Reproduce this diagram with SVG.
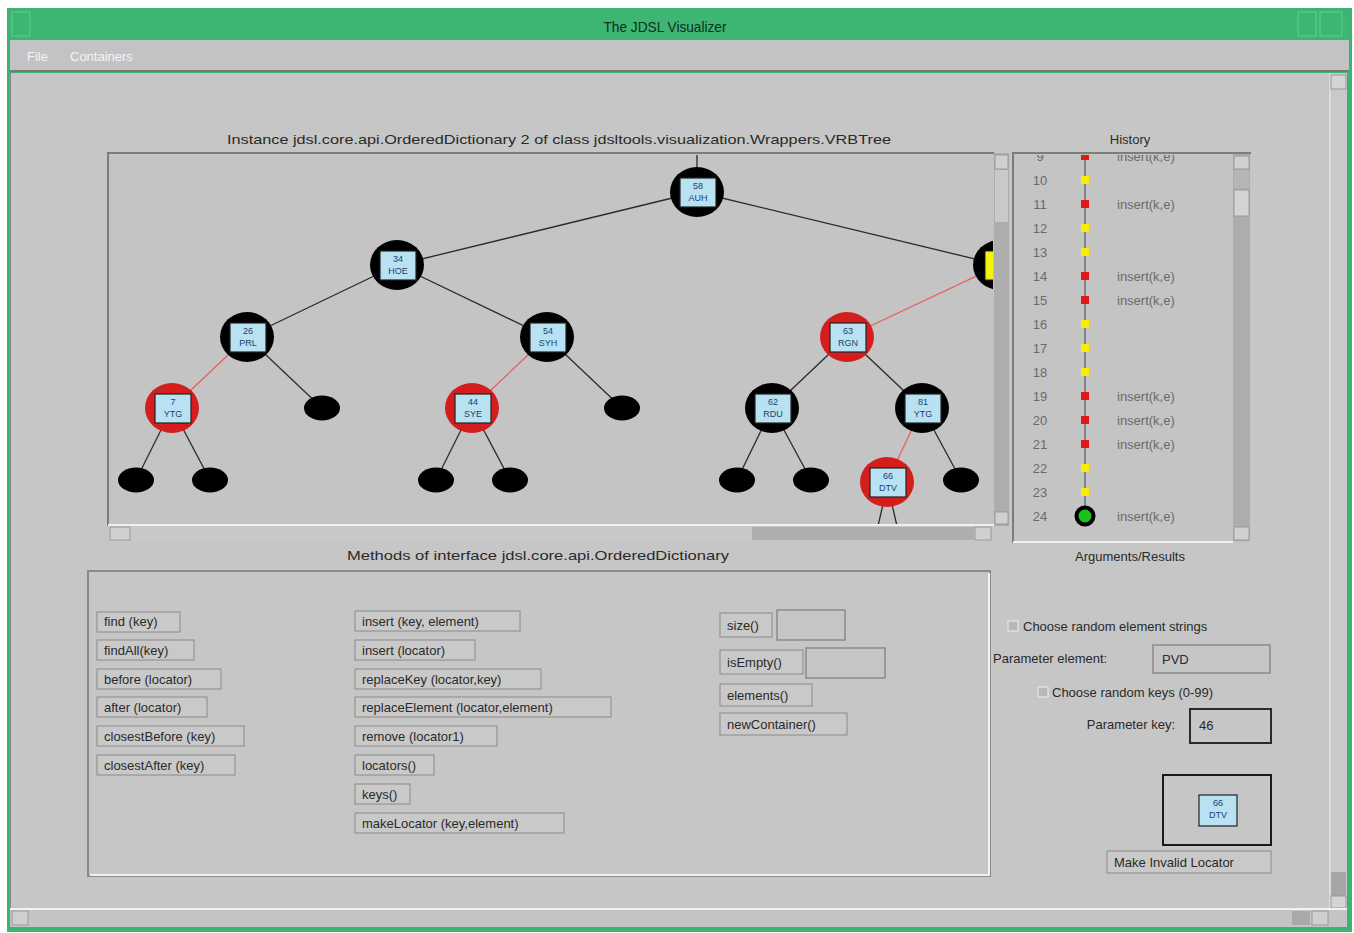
<svg xmlns="http://www.w3.org/2000/svg" width="1354" height="933" viewBox="0 0 1354 933">
<defs>
<style>
text{font-family:"Liberation Sans",Arial,sans-serif;}
.ui{font-size:13px;fill:#2a2a2a;}
.btn{fill:#c9c9c9;stroke:#8a8a8a;stroke-width:1;}
.nl{font-size:9px;fill:#1c3f70;text-anchor:middle;}
.edge{stroke:#2a2a2a;stroke-width:1.3;fill:none;}
.red{stroke:#e86060;stroke-width:1.3;fill:none;}
.bn{fill:#000;}
.rn{fill:#d41e1e;}
.lab{fill:#b8e2f2;stroke:#222;stroke-width:1.2;}
.leaf{fill:#000;}
.hist{font-size:13px;fill:#6a6a6a;}
.field{fill:#c6c6c6;stroke:#8a8a8a;stroke-width:1.5;}
.tbtn{fill:#3db573;stroke:#5fcf8f;stroke-width:1;}
</style>
<clipPath id="treeclip"><rect x="110" y="155" width="883" height="369"/></clipPath>
<clipPath id="histclip"><rect x="1015" y="155" width="218" height="386"/></clipPath>
</defs>

<!-- window frame -->
<rect x="0" y="0" width="1354" height="933" fill="#ffffff"/>
<rect x="7" y="8" width="1345" height="924" fill="#3cb371"/>
<g id="titlebar">
<rect x="10" y="10" width="1339" height="29" fill="#3db573"/>
<rect class="tbtn" x="12" y="12" width="18" height="24"/>
<rect class="tbtn" x="1298" y="12" width="18" height="24"/>
<rect class="tbtn" x="1320" y="12" width="22" height="24"/>
<text x="665" y="32" font-size="15" fill="#10301c" text-anchor="middle" textLength="123" lengthAdjust="spacingAndGlyphs">The JDSL Visualizer</text>
</g>
<g id="menubar">
<rect x="10" y="40" width="1339" height="32" fill="#c3c3c5"/>
<line x1="10" y1="71" x2="1349" y2="71" stroke="#7a7a7a" stroke-width="2"/>
<text x="27" y="61" font-size="13" fill="#f4f4f4">File</text>
<text x="70" y="61" font-size="13" fill="#f4f4f4">Containers</text>
</g>
<rect x="10" y="73" width="1320" height="836" fill="#c6c6c6"/>
<line x1="10" y1="73" x2="10" y2="909" stroke="#8a8a8a" stroke-width="2"/>

<!-- outer scrollbars -->
<g id="outer-vscroll">
<rect x="1330" y="73" width="17" height="836" fill="#c9c9c9"/>
<line x1="1330" y1="73" x2="1330" y2="909" stroke="#f0f0f0" stroke-width="1"/>
<rect x="1331" y="75" width="15" height="14" fill="#d4d4d4" stroke="#9a9a9a"/>
<rect x="1331" y="872" width="15" height="24" fill="#a6a6a6"/>
<rect x="1331" y="896" width="15" height="12" fill="#d4d4d4" stroke="#9a9a9a"/>
</g>
<g id="outer-hscroll">
<rect x="10" y="909" width="1337" height="18" fill="#c4c4c4"/>
<line x1="10" y1="909" x2="1347" y2="909" stroke="#f2f2f2" stroke-width="2"/>
<rect x="12" y="911" width="16" height="14" fill="#cfcfcf" stroke="#9a9a9a"/>
<rect x="1292" y="911" width="18" height="14" fill="#a9a9a9"/>
<rect x="1312" y="911" width="16" height="14" fill="#cfcfcf" stroke="#9a9a9a"/>
</g>

<!-- tree panel -->
<text x="559" y="144" font-size="13" fill="#2a2a2a" text-anchor="middle" textLength="664" lengthAdjust="spacingAndGlyphs">Instance jdsl.core.api.OrderedDictionary 2 of class jdsltools.visualization.Wrappers.VRBTree</text>
<rect x="108" y="153" width="886" height="373" fill="#c4c4c4"/>
<polyline points="108,526 108,153 994,153" fill="none" stroke="#7c7c7c" stroke-width="2"/>
<line x1="108" y1="525" x2="994" y2="525" stroke="#f0f0f0" stroke-width="2"/>

<g id="connectors" clip-path="url(#treeclip)">
<line class="edge" x1="697" y1="150" x2="697" y2="192"/>
<line class="edge" x1="697" y1="192" x2="397" y2="265"/>
<line class="edge" x1="697" y1="192" x2="1000" y2="265"/>
<line class="edge" x1="397" y1="265" x2="247" y2="337"/>
<line class="edge" x1="397" y1="265" x2="547" y2="337"/>
<line class="red" x1="1000" y1="265" x2="847" y2="337"/>
<line class="red" x1="247" y1="337" x2="172" y2="408"/>
<line class="edge" x1="247" y1="337" x2="322" y2="408"/>
<line class="red" x1="547" y1="337" x2="472" y2="408"/>
<line class="edge" x1="547" y1="337" x2="622" y2="408"/>
<line class="edge" x1="847" y1="337" x2="772" y2="408"/>
<line class="edge" x1="847" y1="337" x2="922" y2="408"/>
<line class="edge" x1="172" y1="408" x2="136" y2="480"/>
<line class="edge" x1="172" y1="408" x2="210" y2="480"/>
<line class="edge" x1="472" y1="408" x2="436" y2="480"/>
<line class="edge" x1="472" y1="408" x2="510" y2="480"/>
<line class="edge" x1="772" y1="408" x2="737" y2="480"/>
<line class="edge" x1="772" y1="408" x2="811" y2="480"/>
<line class="red" x1="922" y1="408" x2="887" y2="482"/>
<line class="edge" x1="922" y1="408" x2="961" y2="480"/>
<line class="edge" x1="884" y1="500" x2="878" y2="526"/>
<line class="edge" x1="891" y1="500" x2="897" y2="526"/>
</g>

<g clip-path="url(#treeclip)">
<g id="n-auh"><ellipse class="bn" cx="697" cy="192" rx="27" ry="25"/><rect class="lab" x="680" y="178" width="36" height="29"/><text class="nl" x="698" y="189">58</text><text class="nl" x="698" y="201">AUH</text></g>
<g id="n-hoe"><ellipse class="bn" cx="397" cy="265" rx="27" ry="25"/><rect class="lab" x="380" y="251" width="36" height="29"/><text class="nl" x="398" y="262">34</text><text class="nl" x="398" y="274">HOE</text></g>
<g id="n-right"><ellipse cx="1000" cy="265" rx="27" ry="25" fill="#000"/><rect x="985" y="251" width="36" height="29" fill="#f2f20a" stroke="#222"/></g>
<g id="n-prl"><ellipse class="bn" cx="247" cy="337" rx="27" ry="25"/><rect class="lab" x="230" y="323" width="36" height="29"/><text class="nl" x="248" y="334">26</text><text class="nl" x="248" y="346">PRL</text></g>
<g id="n-syh"><ellipse class="bn" cx="547" cy="337" rx="27" ry="25"/><rect class="lab" x="530" y="323" width="36" height="29"/><text class="nl" x="548" y="334">54</text><text class="nl" x="548" y="346">SYH</text></g>
<g id="n-rgn"><ellipse class="rn" cx="847" cy="337" rx="27" ry="25"/><rect class="lab" x="830" y="323" width="36" height="29"/><text class="nl" x="848" y="334">63</text><text class="nl" x="848" y="346">RGN</text></g>
<g id="n-ytg7"><ellipse class="rn" cx="172" cy="408" rx="27" ry="25"/><rect class="lab" x="155" y="394" width="36" height="29"/><text class="nl" x="173" y="405">7</text><text class="nl" x="173" y="417">YTG</text></g>
<g id="leaf1"><ellipse class="leaf" cx="322" cy="408" rx="18" ry="12.5"/></g>
<g id="n-sye"><ellipse class="rn" cx="472" cy="408" rx="27" ry="25"/><rect class="lab" x="455" y="394" width="36" height="29"/><text class="nl" x="473" y="405">44</text><text class="nl" x="473" y="417">SYE</text></g>
<g id="leaf2"><ellipse class="leaf" cx="622" cy="408" rx="18" ry="12.5"/></g>
<g id="n-rdu"><ellipse class="bn" cx="772" cy="408" rx="27" ry="25"/><rect class="lab" x="755" y="394" width="36" height="29"/><text class="nl" x="773" y="405">62</text><text class="nl" x="773" y="417">RDU</text></g>
<g id="n-ytg81"><ellipse class="bn" cx="922" cy="408" rx="27" ry="25"/><rect class="lab" x="905" y="394" width="36" height="29"/><text class="nl" x="923" y="405">81</text><text class="nl" x="923" y="417">YTG</text></g>
<g id="leaf3"><ellipse class="leaf" cx="136" cy="480" rx="18" ry="12.5"/></g>
<g id="leaf4"><ellipse class="leaf" cx="210" cy="480" rx="18" ry="12.5"/></g>
<g id="leaf5"><ellipse class="leaf" cx="436" cy="480" rx="18" ry="12.5"/></g>
<g id="leaf6"><ellipse class="leaf" cx="510" cy="480" rx="18" ry="12.5"/></g>
<g id="leaf7"><ellipse class="leaf" cx="737" cy="480" rx="18" ry="12.5"/></g>
<g id="leaf8"><ellipse class="leaf" cx="811" cy="480" rx="18" ry="12.5"/></g>
<g id="n-dtv"><ellipse class="rn" cx="887" cy="482" rx="27" ry="25"/><rect class="lab" x="870" y="468" width="36" height="29"/><text class="nl" x="888" y="479">66</text><text class="nl" x="888" y="491">DTV</text></g>
<g id="leaf9"><ellipse class="leaf" cx="961" cy="480" rx="18" ry="12.5"/></g>
</g>

<g id="tree-vscroll">
<rect x="994" y="153" width="15" height="373" fill="#adadad"/>
<rect x="995" y="155" width="13" height="14" fill="#d0d0d0" stroke="#9a9a9a"/>
<rect x="995" y="170" width="13" height="52" fill="#cacaca"/>
<rect x="995" y="512" width="13" height="12" fill="#d0d0d0" stroke="#9a9a9a"/>
</g>
<g id="tree-hscroll">
<rect x="108" y="526" width="886" height="15" fill="#c8c8c8"/>
<rect x="110" y="527" width="20" height="13" fill="#d0d0d0" stroke="#9a9a9a"/>
<rect x="752" y="527" width="222" height="13" fill="#aeaeae"/>
<rect x="975" y="527" width="16" height="13" fill="#d0d0d0" stroke="#9a9a9a"/>
</g>

<!-- history panel -->
<text x="1130" y="144" font-size="13" fill="#2a2a2a" text-anchor="middle">History</text>
<rect x="1013" y="153" width="238" height="390" fill="#c4c4c4"/>
<polyline points="1013,543 1013,153 1251,153" fill="none" stroke="#7c7c7c" stroke-width="2"/>
<line x1="1013" y1="542" x2="1233" y2="542" stroke="#f0f0f0" stroke-width="2"/>
<g id="history-list" clip-path="url(#histclip)">
<line x1="1085" y1="150" x2="1085" y2="516" stroke="#707070" stroke-width="1.5"/>
<text class="hist" x="1040" y="161" text-anchor="middle">9</text>
<rect x="1081" y="152" width="8" height="8" fill="#e01818"/>
<text class="hist" x="1117" y="161">insert(k,e)</text>
<text class="hist" x="1040" y="185" text-anchor="middle">10</text><rect x="1081" y="176" width="8" height="8" fill="#f4f000"/>
<text class="hist" x="1040" y="209" text-anchor="middle">11</text><rect x="1081" y="200" width="8" height="8" fill="#e01818"/><text class="hist" x="1117" y="209">insert(k,e)</text>
<text class="hist" x="1040" y="233" text-anchor="middle">12</text><rect x="1081" y="224" width="8" height="8" fill="#f4f000"/>
<text class="hist" x="1040" y="257" text-anchor="middle">13</text><rect x="1081" y="248" width="8" height="8" fill="#f4f000"/>
<text class="hist" x="1040" y="281" text-anchor="middle">14</text><rect x="1081" y="272" width="8" height="8" fill="#e01818"/><text class="hist" x="1117" y="281">insert(k,e)</text>
<text class="hist" x="1040" y="305" text-anchor="middle">15</text><rect x="1081" y="296" width="8" height="8" fill="#e01818"/><text class="hist" x="1117" y="305">insert(k,e)</text>
<text class="hist" x="1040" y="329" text-anchor="middle">16</text><rect x="1081" y="320" width="8" height="8" fill="#f4f000"/>
<text class="hist" x="1040" y="353" text-anchor="middle">17</text><rect x="1081" y="344" width="8" height="8" fill="#f4f000"/>
<text class="hist" x="1040" y="377" text-anchor="middle">18</text><rect x="1081" y="368" width="8" height="8" fill="#f4f000"/>
<text class="hist" x="1040" y="401" text-anchor="middle">19</text><rect x="1081" y="392" width="8" height="8" fill="#e01818"/><text class="hist" x="1117" y="401">insert(k,e)</text>
<text class="hist" x="1040" y="425" text-anchor="middle">20</text><rect x="1081" y="416" width="8" height="8" fill="#e01818"/><text class="hist" x="1117" y="425">insert(k,e)</text>
<text class="hist" x="1040" y="449" text-anchor="middle">21</text><rect x="1081" y="440" width="8" height="8" fill="#e01818"/><text class="hist" x="1117" y="449">insert(k,e)</text>
<text class="hist" x="1040" y="473" text-anchor="middle">22</text><rect x="1081" y="464" width="8" height="8" fill="#f4f000"/>
<text class="hist" x="1040" y="497" text-anchor="middle">23</text><rect x="1081" y="488" width="8" height="8" fill="#f4f000"/>
<text class="hist" x="1040" y="521" text-anchor="middle">24</text><circle cx="1085" cy="516" r="8.5" fill="#19c419" stroke="#000" stroke-width="4"/><text class="hist" x="1117" y="521">insert(k,e)</text>
</g>
<g id="hist-vscroll">
<rect x="1233" y="154" width="17" height="387" fill="#adadad"/>
<rect x="1234" y="156" width="15" height="13" fill="#d0d0d0" stroke="#9a9a9a"/>
<rect x="1234" y="170" width="15" height="18" fill="#b6b6b6"/>
<rect x="1234" y="190" width="15" height="26" fill="#d4d4d4" stroke="#9a9a9a"/>
<rect x="1234" y="527" width="15" height="13" fill="#d0d0d0" stroke="#9a9a9a"/>
</g>
<text x="1130" y="561" font-size="13" fill="#2a2a2a" text-anchor="middle">Arguments/Results</text>

<!-- methods panel -->
<text x="538" y="560" font-size="13" fill="#2a2a2a" text-anchor="middle" textLength="382" lengthAdjust="spacingAndGlyphs">Methods of interface jdsl.core.api.OrderedDictionary</text>
<rect x="88" y="571" width="902" height="305" fill="#c6c6c6" stroke="#8a8a8a" stroke-width="2"/>
<polyline points="90,875 989,875 989,573" fill="none" stroke="#f0f0f0" stroke-width="2"/>

<g id="b-find"><rect class="btn" x="97" y="612" width="83" height="20"/><text class="ui" x="104" y="626">find (key)</text></g>
<g id="b-findall"><rect class="btn" x="97" y="640" width="97" height="20"/><text class="ui" x="104" y="655">findAll(key)</text></g>
<g id="b-before"><rect class="btn" x="97" y="669" width="124" height="20"/><text class="ui" x="104" y="684">before (locator)</text></g>
<g id="b-after"><rect class="btn" x="97" y="697" width="110" height="20"/><text class="ui" x="104" y="712">after (locator)</text></g>
<g id="b-cbefore"><rect class="btn" x="97" y="726" width="147" height="20"/><text class="ui" x="104" y="741">closestBefore (key)</text></g>
<g id="b-cafter"><rect class="btn" x="97" y="755" width="138" height="20"/><text class="ui" x="104" y="770">closestAfter (key)</text></g>

<g id="b-insert"><rect class="btn" x="355" y="611" width="165" height="20"/><text class="ui" x="362" y="626">insert (key, element)</text></g>
<g id="b-insertloc"><rect class="btn" x="355" y="640" width="120" height="20"/><text class="ui" x="362" y="655">insert (locator)</text></g>
<g id="b-replkey"><rect class="btn" x="355" y="669" width="186" height="20"/><text class="ui" x="362" y="684">replaceKey (locator,key)</text></g>
<g id="b-replel"><rect class="btn" x="355" y="697" width="256" height="20"/><text class="ui" x="362" y="712">replaceElement (locator,element)</text></g>
<g id="b-remove"><rect class="btn" x="355" y="726" width="142" height="20"/><text class="ui" x="362" y="741">remove (locator1)</text></g>
<g id="b-locators"><rect class="btn" x="355" y="755" width="79" height="20"/><text class="ui" x="362" y="770">locators()</text></g>
<g id="b-keys"><rect class="btn" x="355" y="784" width="55" height="20"/><text class="ui" x="362" y="799">keys()</text></g>
<g id="b-makeloc"><rect class="btn" x="355" y="813" width="209" height="20"/><text class="ui" x="362" y="828">makeLocator (key,element)</text></g>

<g id="b-size"><rect class="btn" x="720" y="613" width="52" height="24"/><text class="ui" x="727" y="630">size()</text><rect class="field" x="777" y="610" width="68" height="30"/></g>
<g id="b-isempty"><rect class="btn" x="720" y="650" width="83" height="24"/><text class="ui" x="727" y="667">isEmpty()</text><rect class="field" x="806" y="648" width="79" height="30"/></g>
<g id="b-elements"><rect class="btn" x="720" y="684" width="92" height="22"/><text class="ui" x="727" y="700">elements()</text></g>
<g id="b-newcont"><rect class="btn" x="720" y="713" width="127" height="22"/><text class="ui" x="727" y="729">newContainer()</text></g>

<!-- right parameters panel -->
<g id="param-elem">
<rect x="1008" y="621" width="10" height="10" fill="#b8b8b8" stroke="#eeeeee"/>
<text class="ui" x="1023" y="631">Choose random element strings</text>
<text class="ui" x="993" y="663">Parameter element:</text>
<rect class="field" x="1153" y="645" width="117" height="28"/>
<text class="ui" x="1162" y="664">PVD</text>
</g>
<g id="param-key">
<rect x="1038" y="687" width="10" height="10" fill="#b8b8b8" stroke="#eeeeee"/>
<text class="ui" x="1052" y="697">Choose random keys (0-99)</text>
<text class="ui" x="1175" y="729" text-anchor="end">Parameter key:</text>
<rect x="1190" y="709" width="81" height="34" fill="#c6c6c6" stroke="#2a2a2a" stroke-width="2"/>
<text class="ui" x="1199" y="730">46</text>
</g>
<g id="locator-box">
<rect x="1163" y="775" width="108" height="70" fill="#c6c6c6" stroke="#1a1a1a" stroke-width="2"/>
<rect class="lab" x="1199" y="795" width="38" height="31"/>
<text class="nl" x="1218" y="806">66</text>
<text class="nl" x="1218" y="818">DTV</text>
</g>
<g id="b-invalid"><rect class="btn" x="1107" y="851" width="164" height="22"/><text class="ui" x="1114" y="867">Make Invalid Locator</text></g>
</svg>
